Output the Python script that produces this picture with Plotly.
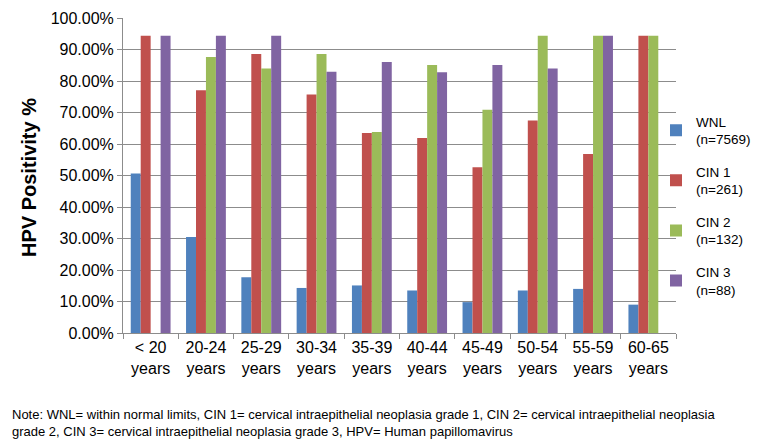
import plotly.graph_objects as go

categories = ["< 20<br>years", "20-24<br>years", "25-29<br>years", "30-34<br>years", "35-39<br>years",
              "40-44<br>years", "45-49<br>years", "50-54<br>years", "55-59<br>years", "60-65<br>years"]
wnl = [50.6, 30.5, 17.7, 14.3, 15.1, 13.5, 9.8, 13.5, 14.0, 9.0]
cin1 = [94.4, 77.1, 88.6, 75.7, 63.5, 61.9, 52.6, 67.5, 56.8, 94.4]
cin2 = [0, 87.6, 84.0, 88.6, 63.8, 85.1, 70.9, 94.4, 94.4, 94.4]
cin3 = [94.4, 94.4, 94.4, 82.9, 86.0, 82.8, 85.1, 84.0, 94.4, 0]
series_names = ["WNL<br>(n=7569)", "CIN 1<br>(n=261)", "CIN 2<br>(n=132)", "CIN 3<br>(n=88)"]
colors = ["#4F81BD", "#C0504D", "#9BBB59", "#8064A2"]
ytick_vals = [0, 10, 20, 30, 40, 50, 60, 70, 80, 90, 100]
y_title = "HPV Positivity %"
note_lines = ["Note: WNL= within normal limits, CIN 1= cervical intraepithelial neoplasia grade 1, "
              "CIN 2= cervical intraepithelial neoplasia",
              "grade 2, CIN 3= cervical intraepithelial neoplasia grade 3, HPV= Human papillomavirus"]

L, R, T, B = 115, 92, 10, 117
W, H = 760, 442
pw, ph = W - L - R, H - T - B

fig = go.Figure()
for i, (name, vals) in enumerate(zip(series_names, [wnl, cin1, cin2, cin3])):
    fig.add_trace(go.Bar(x=categories, y=vals, name=name, marker_color=colors[i],
                         marker_line_width=0, legendgroup=str(i)))

font = "Liberation Sans, Arial, sans-serif"
annotations = [
    dict(text=f"<b>{y_title}</b>", xref="paper", yref="paper",
         x=(21 - L) / pw, y=(H - B - 170) / ph, xanchor="center", yanchor="middle",
         textangle=-90, showarrow=False, font=dict(size=20, family=font, color="black")),
    dict(text="<br>".join(note_lines), xref="paper", yref="paper",
         x=(2 - L) / pw, y=(H - B - 415) / ph, xanchor="left", yanchor="middle",
         align="left", showarrow=False, font=dict(size=13, family=font, color="black")),
]

fig.update_layout(
    width=W, height=H,
    margin=dict(l=L, r=R, t=T, b=B, autoexpand=False),
    paper_bgcolor="white", plot_bgcolor="white",
    barmode="group", bargap=0.28, bargroupgap=0,
    font=dict(family=font, size=16, color="black"),
    showlegend=True,
    legend=dict(x=(648 - L) / pw, xanchor="left", y=0.72, yanchor="top",
                font=dict(size=13.5), tracegroupgap=12, itemwidth=30,
                bgcolor="rgba(0,0,0,0)"),
    xaxis=dict(showline=True, linecolor="#8C8C8C", linewidth=1, automargin=False,
               ticks="outside", tickson="boundaries", ticklen=5, tickcolor="#8C8C8C",
               tickfont=dict(size=16), showgrid=False),
    yaxis=dict(range=[0, 100], tickvals=ytick_vals, automargin=False,
               ticktext=[f"{v:.2f}%" for v in ytick_vals],
               showline=True, linecolor="#8C8C8C", linewidth=1,
               ticks="outside", ticklen=5, tickcolor="#8C8C8C",
               showgrid=True, gridcolor="#8C8C8C", gridwidth=1,
               tickfont=dict(size=16), zeroline=False),
    annotations=annotations,
)
fig.write_html("out.html")
